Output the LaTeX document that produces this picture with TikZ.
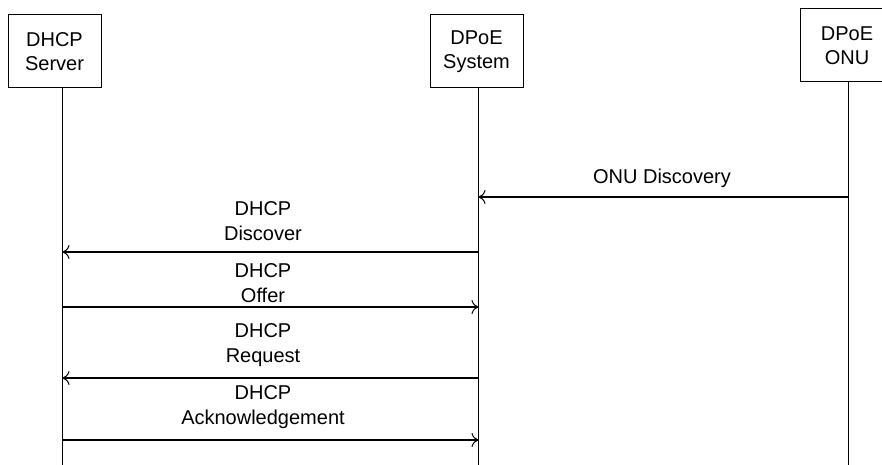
\documentclass[tikz,border=0pt]{standalone}
\usepackage{fontspec}
\setmainfont{Liberation Sans}
\usetikzlibrary{arrows.meta}
\begin{document}
\begin{tikzpicture}[x=1pt,y=-1pt,
  party/.style={draw,line width=1pt,minimum height=73pt,align=center,font=\fontsize{20}{24}\selectfont,inner sep=0pt},
  lifeline/.style={line width=1pt},
  msg/.style={line width=1.4pt,-{To[length=7pt,width=14pt,line width=1pt]}},
  lbl/.style={align=center,font=\fontsize{20}{25}\selectfont,inner sep=0pt}]
\useasboundingbox (0,0) rectangle (882,465);
\begin{scope}
\clip (0,0) rectangle (882,465);
\node[party,minimum width=93pt] (srv) at (54.5,51.5) {DHCP\\Server};
\node[party,minimum width=93pt] (sys) at (476.5,51.5) {DPoE\\System};
\node[party,minimum width=94pt] (onu) at (847,45.5) {DPoE\\ONU};
\coordinate (srvtop) at (62.5,88);
\coordinate (systop) at (478.5,88);
\coordinate (onutop) at (848,82);
\coordinate (srvend) at (62.5,465);
\coordinate (sysend) at (478.5,465);
\coordinate (onuend) at (848,465);
\draw[lifeline] (srvtop) -- (srvend);
\draw[lifeline] (systop) -- (sysend);
\draw[lifeline] (onutop) -- (onuend);
\end{scope}
% message endpoints
\coordinate (o1) at (848,197);   \coordinate (s1) at (478.5,197);
\coordinate (s2) at (478.5,252); \coordinate (d2) at (62.5,252);
\coordinate (d3) at (62.5,307);  \coordinate (s3) at (478.5,307);
\coordinate (s4) at (478.5,378); \coordinate (d4) at (62.5,378);
\coordinate (d5) at (62.5,440);  \coordinate (s5) at (478.5,440);
\draw[msg] (o1) -- (s1);
\draw[msg] (s2) -- (d2);
\draw[msg] (d3) -- (s3);
\draw[msg] (s4) -- (d4);
\draw[msg] (d5) -- (s5);
\node[lbl] (l1) at (662,178) {ONU Discovery};
\node[lbl] (l2) at (263,221) {DHCP\\Discover};
\node[lbl] (l3) at (263,283) {DHCP\\Offer};
\node[lbl] (l4) at (263,345) {DHCP\\Request};
\node[lbl] (l5) at (263,407) {DHCP\\Acknowledgement};
\end{tikzpicture}
\end{document}
